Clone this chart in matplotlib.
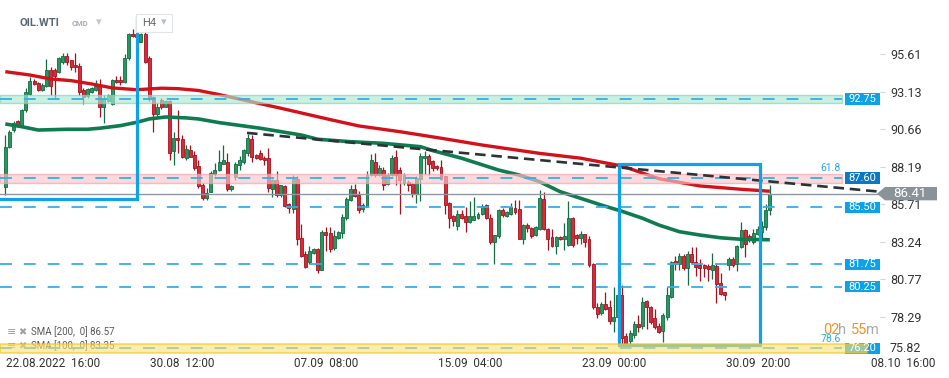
import numpy as np
import matplotlib.pyplot as plt
import matplotlib.transforms as mtransforms
from matplotlib.patches import Rectangle, Polygon

plt.rcParams['font.family'] = ['Roboto', 'DejaVu Sans']

# H4 candles, oldest first (O, H, L, C)
opens = [86.85, 89.5, 90.6, 91.2, 90.95, 91.9, 93.0, 93.87, 93.7, 93.25,
         93.5, 94.6, 94.6, 94.45, 95.1, 95.5, 95.2, 94.9, 94.85, 93.25,
         92.85, 93.1, 93.25, 93.5, 92.15, 92.5, 92.3, 93.9, 93.9, 93.75,
         95.35, 96.95, 96.95, 96.45, 96.95, 95.35, 92.8, 91.7, 92.6, 92.15,
         92.5, 89.2, 90.1, 90.05, 88.75, 89.3, 88.95, 88.25, 86.98, 86.1,
         86.55, 87.7, 87.95, 88.4, 88.5, 86.7, 87.5, 88.3, 88.5, 89.1,
         90.0, 88.96, 89.1, 88.75, 88.75, 86.75, 87.3, 86.3, 86.9, 85.73,
         85.4, 87.35, 83.5, 82.4, 81.9, 82.5, 82.75, 81.4, 83.85, 83.8,
         82.8, 83.5, 83.8, 84.8, 86.0, 86.75, 86.3, 85.37, 85.55, 87.65,
         88.5, 87.65, 87.95, 87.05, 87.65, 88.8, 88.0, 87.1, 87.2, 87.05,
         86.4, 87.35, 88.75, 88.9, 88.55, 88.25, 88.15, 87.55, 85.8, 84.95,
         84.3, 85.05, 84.95, 84.55, 84.7, 84.8, 85.05, 85.65, 84.8, 83.25,
         83.6, 85.33, 84.95, 85.05, 85.45, 85.4, 83.45, 84.35, 84.15, 83.65,
         84.1, 86.05, 84.1, 83.55, 82.95, 83.55, 83.4, 83.0, 84.8, 83.7,
         83.5, 83.75, 83.4, 81.75, 78.95, 78.55, 79.15, 78.95, 78.0, 78.3,
         79.7, 77.0, 76.7, 77.1, 77.8, 77.65, 79.3, 78.95, 78.2, 77.7,
         77.35, 78.25, 79.6, 81.95, 81.8, 82.3, 81.5, 82.4, 81.9, 81.7,
         81.7, 81.65, 81.4, 81.65, 80.5, 79.9, 81.7, 82.1, 81.8, 82.9,
         84.0, 83.6, 83.25, 83.75, 83.9, 84.2, 85.3]
highs = [90.3, 90.6, 91.2, 91.3, 92.0, 93.4, 94.1, 93.95, 93.8, 93.7,
         95.3, 94.8, 94.7, 95.45, 95.7, 95.7, 95.2, 95.7, 95.0, 93.4,
         93.4, 93.45, 93.9, 93.95, 92.9, 93.0, 94.0, 94.2, 94.2, 95.6,
         97.0, 97.25, 97.1, 97.0, 97.1, 95.5, 92.85, 92.4, 92.7, 92.6,
         92.6, 90.5, 91.9, 90.3, 89.6, 89.6, 89.2, 88.6, 87.1, 86.8,
         87.9, 88.45, 89.3, 89.6, 89.1, 87.0, 88.5, 88.9, 89.35, 90.35,
         90.3, 89.0, 89.3, 88.9, 89.4, 87.4, 87.9, 87.0, 87.0, 85.8,
         87.65, 87.55, 84.4, 82.65, 82.95, 82.85, 82.85, 84.0, 84.2, 84.2,
         84.0, 83.95, 85.1, 86.2, 86.98, 87.05, 86.6, 85.8, 87.9, 89.0,
         89.1, 88.3, 88.2, 87.75, 88.96, 89.3, 88.2, 87.8, 87.3, 87.1,
         87.6, 89.1, 89.2, 89.0, 88.65, 88.3, 88.6, 87.6, 85.85, 85.0,
         85.3, 85.3, 85.5, 85.9, 86.2, 85.2, 85.7, 85.7, 85.1, 83.7,
         85.4, 85.45, 85.25, 85.8, 86.0, 86.0, 84.4, 84.5, 84.2, 84.3,
         86.65, 86.5, 84.15, 84.1, 83.6, 83.6, 84.45, 85.9, 84.85, 83.75,
         83.96, 83.75, 83.6, 81.85, 79.2, 79.25, 79.95, 79.4, 80.25, 79.8,
         80.4, 77.2, 77.4, 78.0, 78.4, 79.6, 79.4, 79.0, 78.8, 77.85,
         78.55, 80.25, 81.95, 82.3, 82.5, 82.4, 82.6, 82.9, 82.9, 82.1,
         81.8, 81.75, 82.5, 81.85, 81.2, 79.95, 82.25, 82.2, 83.0, 84.55,
         84.1, 83.75, 84.05, 84.3, 84.6, 85.7, 86.95]
lows = [86.3, 89.4, 90.5, 90.8, 90.8, 91.8, 92.9, 93.6, 93.2, 93.2,
        93.45, 92.9, 92.7, 94.4, 94.95, 94.9, 94.6, 94.45, 92.95, 92.3,
        92.75, 93.05, 93.2, 91.5, 91.1, 92.45, 92.25, 93.7, 93.6, 93.7,
        95.2, 96.75, 96.6, 96.4, 95.0, 92.5, 90.5, 91.5, 92.0, 92.1,
        88.6, 88.3, 89.1, 88.75, 88.65, 88.8, 88.0, 86.8, 86.0, 86.0,
        86.5, 87.6, 87.9, 88.35, 86.6, 86.6, 87.3, 88.0, 88.4, 88.9,
        88.5, 88.7, 88.6, 88.3, 86.55, 86.2, 86.2, 86.2, 85.5, 85.15,
        85.15, 83.0, 82.25, 81.5, 81.8, 82.45, 81.2, 81.35, 82.65, 82.55,
        82.7, 83.4, 83.5, 84.7, 85.95, 86.2, 85.15, 85.2, 85.5, 87.6,
        87.5, 87.6, 86.65, 87.0, 87.6, 86.98, 85.1, 87.0, 86.6, 86.2,
        85.8, 85.9, 87.7, 87.65, 87.9, 88.0, 87.3, 85.1, 84.15, 84.3,
        84.0, 84.75, 83.9, 84.5, 84.7, 84.75, 85.0, 84.75, 83.06, 81.8,
        83.5, 84.9, 84.9, 85.0, 85.1, 83.4, 83.06, 83.9, 83.5, 83.6,
        84.0, 84.0, 82.7, 82.9, 82.4, 83.35, 82.7, 82.95, 82.9, 83.1,
        83.1, 82.9, 81.6, 78.8, 78.2, 78.4, 78.75, 77.8, 77.3, 78.2,
        76.5, 76.4, 76.4, 76.9, 77.3, 77.5, 77.5, 77.8, 77.5, 77.2,
        76.6, 78.1, 79.5, 81.4, 81.4, 81.35, 80.4, 81.8, 81.0, 80.65,
        80.9, 80.65, 80.8, 79.2, 79.75, 79.4, 81.35, 81.6, 81.3, 82.8,
        82.25, 83.2, 83.1, 83.7, 83.5, 84.0, 85.0]
closes = [89.5, 90.5, 91.05, 90.95, 91.9, 93.1, 93.85, 93.65, 93.25, 93.6,
          94.6, 93.5, 94.15, 95.35, 95.5, 95.1, 94.8, 94.75, 93.1, 92.8,
          93.35, 93.4, 93.5, 92.15, 92.65, 92.9, 93.9, 93.75, 93.75, 95.35,
          96.95, 96.8, 96.75, 96.95, 95.1, 92.65, 91.7, 92.15, 92.1, 92.5,
          89.1, 90.1, 89.95, 88.85, 89.35, 88.85, 88.1, 86.9, 86.1, 86.45,
          87.8, 88.0, 88.5, 88.6, 86.7, 86.9, 88.4, 88.6, 89.3, 90.1,
          88.85, 88.75, 88.7, 88.6, 86.8, 87.3, 86.3, 86.97, 85.6, 85.45,
          87.35, 83.45, 82.3, 81.6, 82.6, 82.75, 81.4, 83.85, 83.7, 82.75,
          83.6, 83.85, 84.85, 86.05, 86.75, 86.25, 85.3, 85.65, 87.65, 88.6,
          87.65, 88.1, 86.98, 87.65, 88.75, 87.65, 87.3, 87.65, 86.98, 86.4,
          87.45, 88.9, 88.9, 88.4, 88.1, 88.1, 87.4, 85.65, 84.8, 84.6,
          85.1, 84.8, 84.55, 84.95, 84.95, 85.1, 85.6, 84.8, 83.25, 83.7,
          85.33, 85.0, 85.2, 85.55, 85.2, 83.45, 84.35, 84.15, 83.6, 84.2,
          86.1, 84.05, 83.45, 82.95, 83.55, 83.4, 83.6, 84.8, 83.0, 83.5,
          83.75, 83.25, 81.7, 78.9, 78.5, 79.1, 78.8, 78.0, 78.3, 79.7,
          76.9, 76.5, 77.2, 77.8, 77.6, 79.25, 78.9, 77.95, 77.6, 77.3,
          78.4, 79.7, 81.9, 81.8, 82.3, 81.5, 82.4, 81.9, 81.6, 81.5,
          81.5, 81.45, 81.7, 80.45, 79.8, 79.7, 82.1, 81.7, 82.95, 84.0,
          83.1, 83.45, 83.8, 84.05, 84.3, 85.35, 86.41]

# moving averages read at a few candles
sma200_idx = [0, 6, 11, 16, 21, 26, 32, 38, 42, 47, 52, 57, 67, 79, 86, 96,
              106, 116, 130, 140, 150, 159, 169, 179, 186]
sma200 = [94.46, 94.24, 93.98, 93.87, 93.65, 93.39, 93.27, 93.37, 93.34, 93.22,
          92.95, 92.65, 92.05, 91.3, 90.88, 90.5, 90.07, 89.62, 89.07, 88.75,
          88.24, 87.4, 86.92, 86.7, 86.57]
sma100_idx = [0, 4, 8, 15, 20, 23, 28, 32, 35, 39, 44, 47, 52, 62, 72, 76, 84,
              92, 101, 104, 111, 120, 125, 130, 135, 140, 145, 150, 155, 159,
              164, 169, 174, 179, 186]
sma100 = [91.01, 90.83, 90.61, 90.66, 90.66, 90.73, 90.9, 91.12, 91.34, 91.47,
          91.41, 91.34, 91.1, 90.73, 90.28, 90.0, 89.84, 89.73, 89.51, 89.25,
          88.75, 87.97, 87.64, 87.2, 86.54, 86.1, 85.66, 85.25, 84.79, 84.34,
          83.9, 83.68, 83.5, 83.4, 83.37]

# horizontal levels (line value, label)
level_vals = [92.66, 87.45, 85.51, 81.75, 80.26, 76.2]
level_labels = ['92.75', '87.60', '85.50', '81.75', '80.25', '76.20']
teal_zone = (92.38, 92.92)
pink_zone = (87.14, 87.71)
yellow_zone = (75.91, 76.49)
last_price = 86.41

trend_x = [58.8, 212.8]
trend_y = [90.42, 86.54]

yticks = [95.61, 93.13, 90.66, 88.19, 85.71, 83.24, 80.77, 78.29]
xtick_pos = [0.2, 35.2, 70.3, 105.3, 140.4, 175.4, 210.5]
xtick_labels = ['22.08.2022  16:00', '30.08  12:00', '07.09  08:00', '15.09  04:00',
                '23.09  00:00', '30.09  20:00', '08.10  16:00']

W, H = 949, 378
fig = plt.figure(figsize=(W / 100, H / 100), dpi=100)
ax = fig.add_axes([0, 24 / H, 880 / W, 354 / H])
ax.set_xlim(-1.29, 212.8)
ax.set_ylim(75.83, 99.19)
for s in ax.spines.values():
    s.set_visible(False)


def fpx(x, y):
    return x / W, 1 - y / H


# candles
o = np.array(opens)
c = np.array(closes)
idx = np.arange(len(c))
up = c >= o
fill = ['#26975f' if u else '#d92a3a' for u in up]
edge = ['#156b42' if u else '#a3121f' for u in up]
ax.vlines(idx, lows, highs, colors=edge, lw=0.9, zorder=2)
ax.bar(idx, np.maximum(np.abs(c - o), 0.07), bottom=np.minimum(o, c), width=0.72,
       color=fill, edgecolor=edge, linewidth=0.6, zorder=3)

# moving averages
ax.plot(sma200_idx, sma200, color='#d4101a', lw=2.4, zorder=4, solid_capstyle='butt')
ax.plot(sma100_idx, sma100, color='#0e7c4e', lw=2.6, zorder=4, solid_capstyle='butt')

# zones
yt = ax.get_yaxis_transform()
zone_end = 842 / 880
for (lo, hi), fc, ec in [(teal_zone, '#aee8d2', '#7fd5b4'),
                         (pink_zone, '#f9c6cb', '#f3a0a8')]:
    ax.add_patch(Rectangle((0, lo), zone_end, hi - lo, transform=yt,
                           facecolor=fc, edgecolor=ec, lw=1.0, alpha=0.65, zorder=5))

# level lines
for v in level_vals:
    ax.plot([0, zone_end], [v, v], transform=yt, color='#36aee9', lw=1.3,
            dashes=(6.6, 6.6), zorder=6)

# current price line
ax.axhline(last_price, color='#8e979e', lw=1.0, zorder=4.5)

# trend line
ax.plot(trend_x, trend_y, color='#2b3338', lw=1.9, dashes=(4, 2.2), zorder=6.5,
        clip_on=False)

# blue boxes
blue = '#0ea2ea'
ax.plot([-1.29, 32.0, 32.0], [86.06, 86.06, 98.0], color=blue, lw=2.3, zorder=7,
        solid_joinstyle='miter')
ax.add_patch(Rectangle((149.4, 76.42), 34.1, 11.95, fill=False, edgecolor=blue,
                       lw=2.3, zorder=7, joinstyle='miter'))

# level label boxes
box_x = 845 / 880
for v, lab in zip(level_vals, level_labels):
    col = '#0a78c2' if lab == '87.60' else '#0ca2ea'
    ax.add_patch(Rectangle((box_x, v - 0.37), 1 - box_x, 0.74, transform=yt,
                           facecolor=col, edgecolor='none', zorder=8, clip_on=False))
    ax.text((box_x + 1) / 2, v, lab, transform=yt, ha='center', va='center',
            color='white', fontsize=8, zorder=9, clip_on=False)

# yellow zone drawn over the bottom label
ax.add_patch(Rectangle((0, yellow_zone[0]), 867 / 880, yellow_zone[1] - yellow_zone[0],
                       transform=yt, facecolor='#fbe07a', edgecolor='#f6c400', lw=1.2,
                       alpha=0.6, zorder=8.5, clip_on=False))

ax.text(841 / 880, pink_zone[1] + 0.05, '61.8', transform=yt, ha='right', va='bottom',
        color='#2aa8e2', fontsize=7.5, zorder=9)
ax.text(841 / 880, yellow_zone[1] + 0.0, '78.6', transform=yt, ha='right', va='bottom',
        color='#2aa8e2', fontsize=7.5, zorder=9)

# last price tag
bt = mtransforms.blended_transform_factory(fig.transFigure, ax.transData)
ax.add_patch(Polygon([(877 / W, last_price), (885 / W, last_price + 0.44),
                      (937 / W, last_price + 0.44), (937 / W, last_price - 0.44),
                      (885 / W, last_price - 0.44)], closed=True, transform=bt,
                     facecolor='#8a9399', edgecolor='none', zorder=10, clip_on=False))
ax.text(910 / W, last_price, f'{last_price:.2f}', transform=bt, ha='center', va='center',
        color='white', fontsize=9.5, zorder=11, clip_on=False)

# axes ticks
ax.yaxis.tick_right()
ax.set_yticks(yticks)
ax.set_yticklabels([f'{t:.2f}' for t in yticks])
ax.tick_params(axis='y', length=3.5, width=0.8, color='#d6d6d6', pad=4,
               labelsize=9, labelcolor='#333333')
for lab in ax.get_yticklabels():
    lab.set_zorder(1)
fig.text(*fpx(890, 348), '75.82', ha='left', va='center', fontsize=9, color='#333333')

ax.set_xticks(xtick_pos)
ax.set_xticklabels(xtick_labels)
ax.tick_params(axis='x', length=0, pad=2.5, labelsize=8.5, labelcolor='#333333')
for lab in ax.get_xticklabels():
    lab.set_ha('left')

# header
fig.text(*fpx(20, 23), 'OIL.WTI', fontsize=8, fontweight='bold', color='#5b6770',
         va='center')
fig.text(*fpx(72, 24), 'CMD', fontsize=5.5, fontweight='bold', color='#a3acb4',
         va='center')
fig.text(*fpx(99, 22), '▾', fontsize=8, color='#c3c8cc', va='center', ha='center',
         family='DejaVu Sans')
fig.patches.append(Rectangle(fpx(136, 32), 36 / W, 18 / H, transform=fig.transFigure,
                             facecolor='white', edgecolor='#e1e4e7', lw=0.8, zorder=12))
fig.text(*fpx(142, 23), 'H4', fontsize=8, color='#6b6b6b', va='center', zorder=13)
fig.text(*fpx(164, 22), '▾', fontsize=8, color='#b9bec3', va='center', ha='center',
         family='DejaVu Sans', zorder=13)

# indicator legend (second row sits under the yellow zone)
ft = fig.transFigure
for row, txt in [(332, 'SMA [200,  0] 86.57'), (346, 'SMA [100,  0] 83.35')]:
    ax.text(*fpx(7, row), '≡', transform=ft, fontsize=8, color='#9aa0a6', va='center',
            family='DejaVu Sans', zorder=1, clip_on=False)
    ax.text(*fpx(18, row), '✖', transform=ft, fontsize=7, color='#9aa0a6', va='center',
            family='DejaVu Sans', zorder=1, clip_on=False)
    ax.text(*fpx(31, row), txt, transform=ft, fontsize=7, color='#5a5a5a', va='center',
            zorder=1, clip_on=False)

# countdown
for x, t, col in [(823, '02', '#f7931e'), (838, 'h', '#a9a9a9'),
                  (851, '55', '#f7931e'), (866, 'm', '#a9a9a9')]:
    fig.text(*fpx(x, 330), t, fontsize=10.5, color=col, va='center', zorder=14)

fig.savefig('out.png', dpi=100)
